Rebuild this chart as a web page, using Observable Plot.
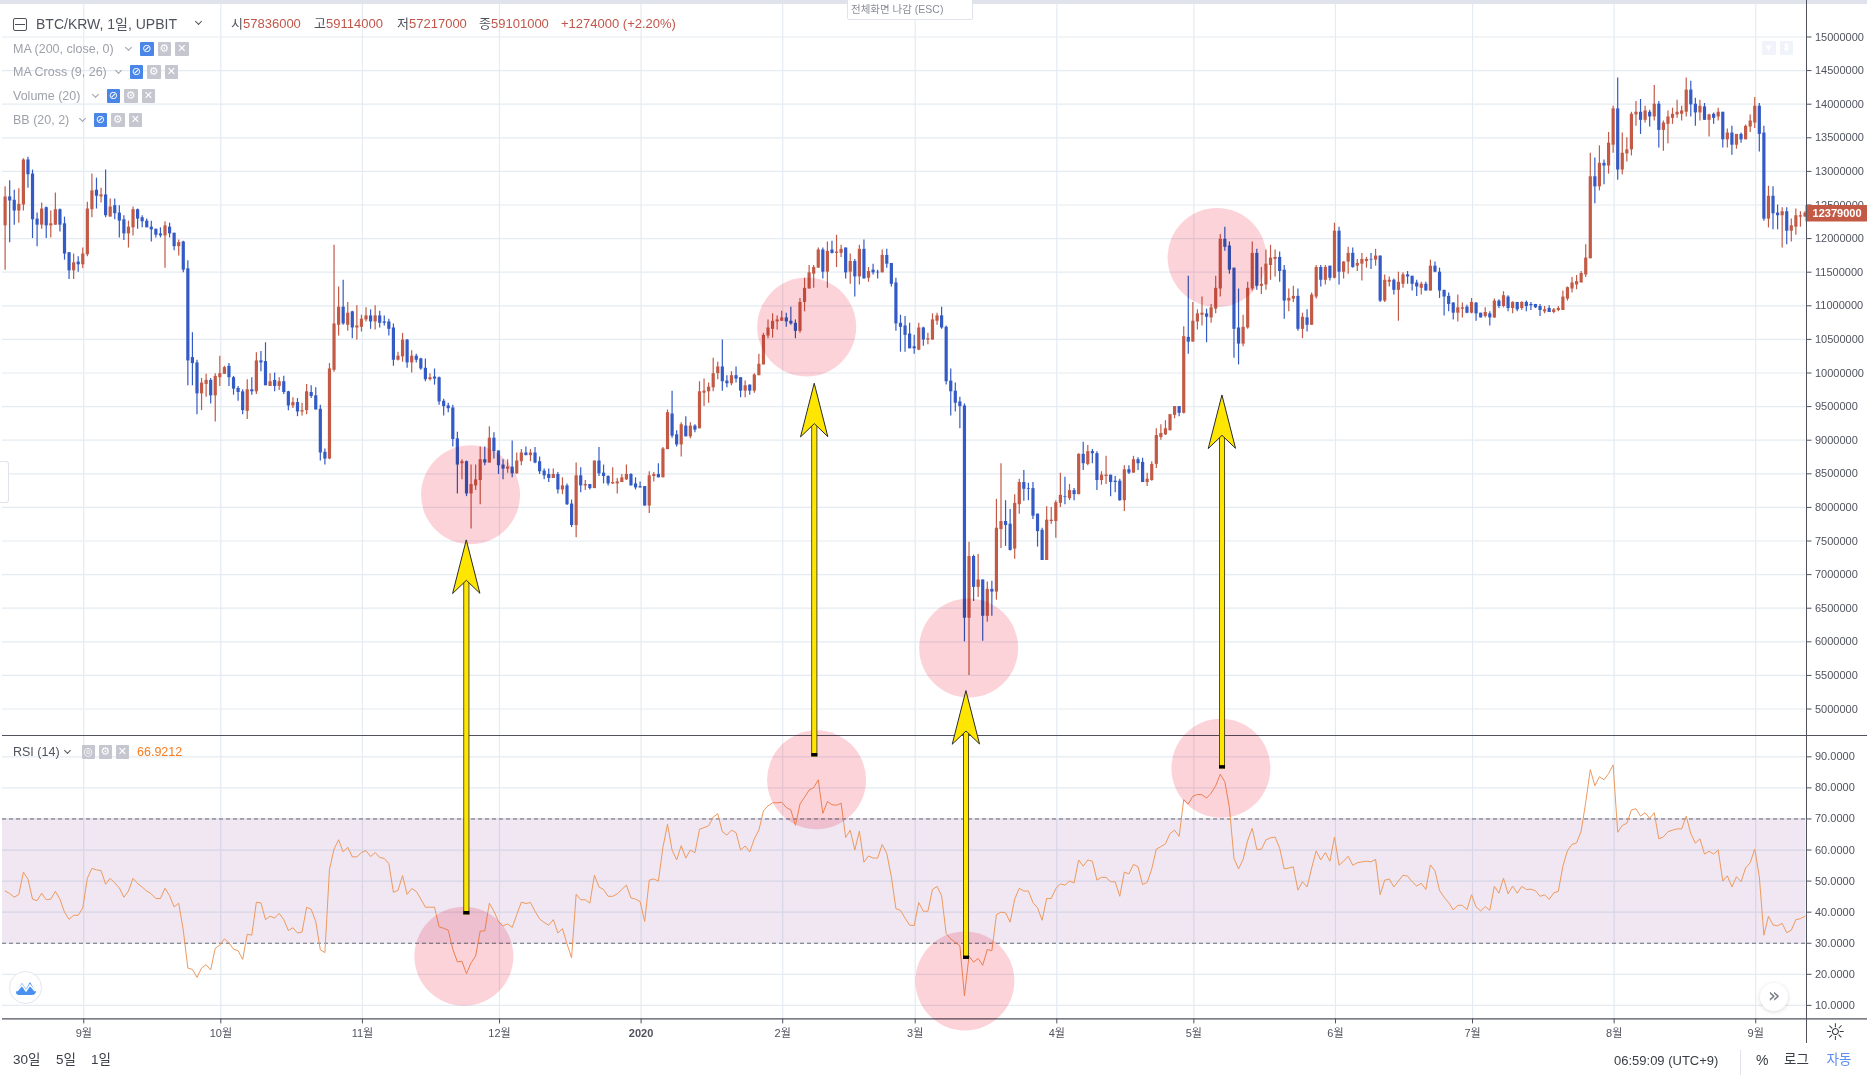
<!DOCTYPE html>
<html lang="ko"><head><meta charset="utf-8">
<script src="https://cdn.jsdelivr.net/npm/d3@7"></script>
<script src="https://cdn.jsdelivr.net/npm/@observablehq/plot@0.6"></script>
<style>
html,body{margin:0;background:#fff;}
#chart{position:relative;width:1867px;height:1080px;overflow:hidden;font-family:"Liberation Sans","Noto Sans CJK KR",sans-serif;color:#50535e;}
.t{position:absolute;white-space:nowrap;line-height:1;}
.b{position:absolute;width:13.5px;height:14px;border-radius:1px;background:#c5c6cf;color:#fff;font:11px/14px "DejaVu Sans";text-align:center;}
.b.on{background:#4a86e8;}
</style></head><body><div id="chart"></div>
<script>
// Prices are in units of 10,000 KRW; one daily candle per entry from 2019-08-15.
const unit = 10000;
const opens = [1219,1262,1257,1241,1250,1317,1296,1229,1220,1246,
1219,1220,1243,1222,1179,1152,1165,1161,1176,1243,
1272,1262,1265,1232,1249,1238,1228,1207,1216,1243,
1231,1226,1217,1214,1207,1204,1217,1208,1188,1195,
1155,1023,1015,969,983,989,966,993,998,1010,
993,977,972,943,975,972,1018,1017,980,989,
980,987,972,951,956,942,944,971,966,946,
882,872,1004,1071,1098,1071,1091,1067,1068,1079,
1085,1076,1085,1076,1076,1067,1019,1024,1049,1015,
1025,1021,1007,990,994,993,958,951,948,902,
865,868,820,832,840,871,866,903,884,863,
857,860,850,868,881,877,881,868,854,849,
843,849,826,832,805,773,847,832,834,828,
869,851,846,835,835,837,841,849,835,831,
831,802,846,849,844,886,939,908,893,921,
905,921,917,970,972,978,999,1009,988,984,
996,993,973,982,973,996,1012,1055,1065,1076,
1077,1082,1077,1074,1062,1105,1125,1147,1156,1183,
1150,1183,1178,1178,1186,1150,1166,1143,1184,1141,
1153,1150,1149,1175,1163,1134,1074,1070,1058,1039,
1034,1067,1049,1049,1077,1085,1068,988,973,957,
951,635,727,681,692,638,678,674,767,779,
775,738,804,837,828,828,790,766,721,779,
779,806,816,813,825,819,879,864,883,880,
840,846,848,839,839,810,856,851,871,867,
837,840,864,904,908,914,937,950,940,1053,
1046,1076,1086,1088,1082,1095,1125,1199,1189,1156,
1067,1043,1067,1125,1178,1129,1131,1160,1169,1172,
1153,1107,1110,1114,1065,1082,1071,1113,1157,1138,
1159,1141,1211,1150,1165,1178,1159,1162,1166,1169,
1168,1174,1107,1135,1138,1123,1132,1146,1144,1134,
1126,1132,1122,1159,1150,1123,1114,1104,1089,1095,
1098,1089,1104,1089,1084,1088,1082,1107,1099,1113,
1096,1105,1096,1105,1102,1102,1099,1091,1096,1090,
1093,1093,1110,1125,1131,1134,1146,1170,1292,1277,
1312,1308,1339,1393,1302,1326,1332,1384,1388,1376,
1388,1381,1400,1361,1370,1379,1384,1385,1388,1421,
1400,1387,1396,1376,1385,1381,1388,1347,1357,1339,
1355,1347,1366,1372,1397,1357,1229,1263,1238,1234,
1240,1211,1217,1232,1232];
const closes = [1262,1256,1241,1251,1317,1295,1228,1220,1244,1219,
1222,1243,1220,1177,1152,1164,1161,1177,1244,1271,
1263,1265,1234,1247,1237,1226,1207,1217,1243,1229,
1225,1216,1213,1205,1204,1219,1207,1188,1194,1153,
1018,1014,969,985,989,966,995,999,1008,993,
976,971,944,975,972,1018,1015,981,987,980,
987,971,951,956,942,944,972,965,945,881,
872,1006,1073,1098,1073,1089,1067,1070,1080,1085,
1076,1085,1074,1074,1065,1019,1025,1049,1015,1025,
1019,1006,990,993,991,957,950,947,901,863,
868,820,834,841,871,866,903,883,862,857,
860,850,869,881,877,881,866,853,847,843,
849,826,832,804,773,847,832,834,828,869,
850,846,835,837,838,844,849,832,829,829,
802,847,849,844,887,941,906,893,923,905,
921,915,972,973,979,999,1009,987,984,996,
991,973,981,973,997,1013,1056,1067,1077,1079,
1082,1076,1073,1062,1105,1126,1149,1157,1183,1150,
1181,1178,1180,1184,1149,1166,1143,1184,1140,1151,
1149,1149,1175,1162,1132,1073,1068,1056,1036,1036,
1067,1049,1051,1079,1085,1067,987,972,955,950,
635,727,681,692,638,678,674,769,779,773,
736,806,837,827,827,787,764,721,781,781,
807,818,815,825,819,879,865,883,880,840,
848,848,837,837,810,856,851,871,865,837,
842,864,907,910,917,938,950,940,1054,1046,
1077,1088,1089,1083,1097,1126,1199,1187,1153,1065,
1043,1068,1126,1178,1129,1132,1162,1171,1172,1151,
1107,1111,1114,1065,1083,1071,1116,1157,1138,1157,
1141,1211,1150,1165,1178,1157,1163,1169,1169,1168,
1174,1107,1138,1138,1123,1135,1146,1143,1132,1128,
1132,1122,1159,1150,1122,1113,1102,1089,1097,1097,
1089,1105,1088,1082,1090,1082,1107,1099,1115,1096,
1105,1094,1105,1099,1100,1097,1093,1094,1090,1094,
1096,1113,1127,1134,1136,1148,1171,1292,1277,1312,
1308,1342,1393,1302,1327,1332,1385,1388,1376,1390,
1381,1400,1361,1372,1381,1385,1388,1390,1421,1399,
1387,1397,1376,1384,1379,1388,1347,1357,1339,1355,
1347,1367,1375,1397,1355,1229,1263,1237,1234,1240,
1211,1219,1234,1234,1238];
const highs = [1277,1286,1272,1274,1319,1321,1302,1238,1253,1247,
1241,1268,1244,1232,1179,1177,1173,1186,1254,1296,
1290,1275,1302,1259,1259,1249,1234,1226,1247,1244,
1234,1229,1226,1214,1216,1225,1223,1208,1198,1196,
1167,1060,1019,992,998,992,999,1025,1010,1014,
995,980,975,990,993,1030,1032,1045,999,1000,
993,995,973,963,962,955,983,981,978,952,
887,1014,1190,1128,1138,1105,1092,1100,1086,1097,
1094,1100,1092,1085,1080,1073,1031,1059,1050,1033,
1028,1022,1021,999,1006,994,961,955,952,912,
871,869,863,863,890,890,920,911,884,871,
871,899,881,886,890,886,889,875,857,857,
857,852,844,835,811,866,859,840,834,869,
889,863,847,859,843,849,863,850,844,838,
831,853,852,865,889,945,973,914,926,935,
926,923,987,991,985,1022,1016,1049,996,1002,
1009,993,988,982,999,1028,1059,1079,1088,1085,
1092,1089,1098,1079,1111,1141,1160,1160,1186,1186,
1195,1196,1205,1190,1186,1177,1169,1190,1198,1157,
1162,1153,1183,1184,1163,1141,1086,1084,1074,1056,
1074,1068,1059,1088,1089,1098,1070,1006,985,964,
954,748,729,730,692,689,690,812,865,810,
797,819,842,855,836,837,790,769,801,800,
810,851,845,834,828,880,897,892,886,883,
853,876,848,846,842,862,862,876,874,873,
851,868,917,923,929,938,950,950,1069,1144,
1105,1094,1113,1095,1102,1144,1206,1217,1195,1156,
1125,1086,1135,1195,1184,1157,1183,1190,1183,1180,
1160,1125,1129,1125,1089,1094,1119,1160,1160,1160,
1159,1223,1217,1166,1187,1186,1169,1178,1172,1178,
1184,1174,1146,1143,1140,1150,1149,1151,1144,1138,
1135,1135,1168,1165,1156,1123,1119,1105,1116,1104,
1101,1111,1105,1089,1097,1091,1110,1109,1121,1115,
1106,1105,1106,1107,1105,1102,1102,1099,1100,1096,
1099,1122,1128,1142,1145,1151,1191,1327,1320,1338,
1317,1358,1397,1439,1357,1350,1388,1404,1407,1397,
1391,1428,1404,1375,1390,1394,1406,1397,1439,1434,
1409,1406,1401,1385,1387,1394,1388,1363,1367,1355,
1357,1369,1384,1410,1401,1367,1278,1277,1250,1246,
1246,1229,1244,1240,1240];
const lows = [1153,1194,1220,1223,1241,1275,1200,1188,1214,1200,
1201,1220,1210,1168,1139,1139,1150,1155,1173,1231,
1244,1253,1231,1232,1228,1201,1197,1186,1204,1214,
1216,1216,1195,1201,1201,1156,1201,1182,1174,1149,
981,981,938,944,964,954,927,980,998,980,
967,958,938,931,967,968,1002,981,980,972,
974,968,944,947,935,936,938,962,945,869,
863,871,1001,1055,1071,1062,1051,1049,1061,1076,
1065,1064,1067,1070,1055,1010,1018,1016,1007,1000,
1015,1004,987,988,982,952,936,941,890,820,
841,816,768,825,804,862,866,872,849,841,
851,844,849,862,877,868,865,849,841,837,
843,820,819,803,770,755,822,825,826,828,
846,835,832,834,820,837,840,832,826,829,
802,791,838,844,844,886,903,890,875,905,
902,911,917,950,955,972,990,973,978,981,
985,963,963,967,970,996,1012,1051,1052,1064,
1077,1068,1071,1051,1059,1091,1125,1126,1156,1140,
1126,1177,1157,1172,1140,1132,1113,1131,1140,1135,
1146,1140,1149,1156,1128,1062,1031,1031,1036,1028,
1033,1040,1042,1049,1071,1065,982,936,942,917,
600,550,660,666,601,629,638,662,739,742,
735,723,790,809,810,782,741,721,721,775,
754,800,804,810,810,819,855,862,865,825,
833,834,816,822,809,794,849,851,855,837,
831,839,858,900,907,914,932,935,939,1028,
1046,1064,1070,1045,1074,1088,1113,1181,1147,1022,
1012,1039,1065,1122,1123,1117,1123,1138,1143,1135,
1080,1091,1105,1062,1051,1061,1071,1110,1128,1131,
1137,1140,1131,1140,1147,1156,1151,1137,1156,1154,
1159,1105,1105,1128,1116,1077,1126,1132,1122,1114,
1116,1122,1122,1149,1111,1085,1091,1079,1076,1082,
1088,1088,1077,1082,1082,1070,1081,1096,1097,1091,
1088,1091,1093,1091,1093,1096,1084,1088,1090,1088,
1091,1093,1107,1119,1124,1134,1142,1170,1252,1271,
1280,1296,1327,1287,1295,1314,1323,1367,1355,1372,
1366,1375,1335,1330,1341,1370,1379,1375,1381,1381,
1367,1375,1376,1351,1370,1375,1335,1335,1324,1333,
1342,1347,1358,1364,1329,1226,1216,1213,1213,1186,
1191,1195,1205,1217,1232];
const rsiValues = [46.8,46,44.8,45.7,52.9,50.6,44.2,43.7,46.1,44,
44.2,46.7,44.2,40,37.7,39,39,41.4,50.9,54.1,
53.6,53.4,49,50.9,49.4,47.8,44.8,46.8,50.9,49.2,
48.1,46.8,45.9,44.4,44.4,47.7,45.3,41.7,42.9,34.2,
22,21.6,19,22,23.1,21.4,28.4,29.4,31.4,30.1,
28.1,27.6,24.8,32.9,32.6,43.2,43,37.6,38.7,38.1,
39.6,37.6,34.1,35,33.3,33.6,41.6,40.9,37,27.9,
27,53.7,60.3,63.3,59.4,60.9,57.8,57.8,59.2,59.8,
57.9,59.2,57.6,57.3,55.6,46.4,47,51.8,45.7,47.6,
46.7,44.2,41.6,41.6,41.6,35.3,34.8,34.2,28.1,24,
24.2,20.2,23.7,25.9,33.9,34,42.9,40.3,37,35.6,
36.2,35.1,39.2,43.2,42.8,43.1,40.3,37.8,36.7,35.8,
37.6,33.3,34.7,29.8,25.3,45.8,44,44,42.9,51.9,
48.1,47.3,45.1,45.1,45.9,47.3,48.7,44.6,44.2,43.4,
37,50.3,50.7,50,60.9,68.3,60,56.8,61.4,57.4,
60,59.1,66.7,67.2,67.8,70.6,71.7,65.9,64.8,66.4,
65.6,60,61.3,59.4,63.6,66.4,72.6,74.2,75.2,75.2,
75.4,73.7,72.9,67.9,74.8,77,79.3,80.1,82.6,71.8,
75.6,74.6,74.4,75.1,64,66.4,60,66.1,56.1,58.1,
57.4,57.4,61.8,58.9,51.4,41.1,40.6,38.1,35.8,35.7,
43.1,40.3,40.3,47.3,48.3,45.3,
33.1,31.4,30.3,29.2,13.1,25.9,23.9,25.1,22.9,28,
27.6,39.2,40,39.8,36.8,44.2,47.7,46.8,46.8,43.1,
41.4,37.4,44.4,44.4,47.6,49.1,48.7,50,49.4,56.8,
54.8,56.8,56.4,50.3,51.2,51.2,49.8,49.8,45.1,52.9,
52.3,55.4,54.6,48.9,49.6,53.9,60.3,61.1,62,65.3,
66.4,64.4,76.2,74.8,77.3,77.9,77.8,76.7,78.3,80.7,
84.4,82,73.7,57.3,53.9,57,63.1,67,60.2,60.2,
63.3,63.9,64.2,60.6,53.9,54.2,54.6,47.1,49.8,48.1,
54.2,59.7,56.8,59.2,56.4,64.2,55.1,56.4,58,55.1,
55.9,56.2,56.4,56.2,57,45.6,50.3,50.7,48.1,50,
51.9,51.6,49.8,48.4,49.3,47.3,55.2,53.3,47,44.8,
43.1,40.7,42.2,42.2,40.8,45.6,41.7,40.4,41.8,40.6,
48.3,46.1,50.9,45.9,48.4,46.1,48.3,47.3,47.4,46.9,
45.1,45.6,44.1,46.2,46.7,54.8,59.8,61.8,62.3,66.1,
75.3,85.9,80.7,83.6,82.6,84.6,87.4,65.7,67.9,68.6,
72.9,73.3,70.9,72,70.2,72,63.6,64.2,65.9,66.4,
66.8,66.8,70.9,65.3,62.2,63.6,58.7,59.6,58.7,60,
50,51.7,48.1,51.4,49.8,54.2,55.9,60.3,51.4,32.6,
38.7,35.9,35.6,36.4,33.4,34.2,37.6,37.9,38.7];

const priceTicks = [5000000,5500000,6000000,6500000,7000000,7500000,8000000,8500000,9000000,9500000,10000000,10500000,11000000,11500000,12000000,12500000,13000000,13500000,14000000,14500000,15000000];
const rsiTicks = [10,20,30,40,50,60,70,80,90];
const monthTickDates = ["2019-09-01","2019-10-01","2019-11-01","2019-12-01","2020-01-01","2020-02-01","2020-03-01","2020-04-01","2020-05-01","2020-06-01","2020-07-01","2020-08-01","2020-09-01"];
const monthTickLabels = ["9월","10월","11월","12월","2020","2월","3월","4월","5월","6월","7월","8월","9월"];
const lastPrice = 12379000;

// Annotations, expressed on the extended price axis of the overlay.
const circleDates = ["2019-11-24T16:00Z","2020-02-06T06:00Z","2020-03-12T17:00Z","2020-05-06T02:00Z","2019-11-23T05:00Z","2020-02-08T10:00Z","2020-03-11T21:00Z","2020-05-06T22:00Z"];
const circleLevels = [8188000,10686000,5907000,11720000,1320000,3946000,954000,4119000];
const arrowDates = ["2019-11-23T18:00Z","2020-02-07T22:00Z","2020-03-12T03:00Z","2020-05-07T04:00Z"];
const arrowTips = [7511000,9842000,5269000,9668000];
const arrowBases = [1937000,4288000,1274000,4108000];

const RED = "#c25a46", BLUE = "#345bc5", GRID = "#e4ebf2", AXIS = "#50535e", RSI = "#ee9a5e", YEL = "#ffe600";
const FONT = '"Liberation Sans","Noto Sans CJK KR",sans-serif';
const W = 1867, ML = 2, MR = 61.5;
const viewStart = new Date(Date.UTC(2019,7,14,5)), viewEnd = new Date(Date.UTC(2020,8,12));
const tagMid = new Date(+viewEnd + 6.8*864e5), tagEnd = new Date(+viewEnd + 13.6*864e5);
const xScale = {type:"utc", domain:[viewStart, viewEnd], axis:null};
const tickDates = monthTickDates.map(s => new Date(s + "T00:00Z"));
const tickLabel = new Map(tickDates.map((d,i) => [+d, monthTickLabels[i]]));
const candles = opens.map((o,i) => ({date:new Date(Date.UTC(2019,7,15+i)), open:o*unit, close:closes[i]*unit, high:highs[i]*unit, low:lows[i]*unit, rsi:rsiValues[i]}));
const up = candles.filter(d => d.close >= d.open), down = candles.filter(d => d.close < d.open);
const base = (extra) => ({width:W, marginLeft:ML, marginRight:MR, marginTop:0, ...extra});
const abs = (top, more={}) => ({position:"absolute", left:"0", top:top+"px", background:"transparent", fontFamily:FONT, maxWidth:"none", ...more});
const candleMarks = (rows, color) => [
  Plot.ruleX(rows, {x:"date", y1:"low", y2:"high", stroke:color, strokeWidth:1.2, dx:-1}),
  Plot.ruleX(rows, {x:"date", y1:"open", y2:"close", stroke:color, strokeWidth:3.2, dx:-1})
];

const pricePlot = Plot.plot(base({
  height:735, marginBottom:0, x:xScale,
  y:{domain:[4606000,15543000], axis:null},
  style:abs(0),
  marks:[
    Plot.ruleY(priceTicks, {stroke:GRID, strokeWidth:1.2}),
    Plot.ruleX(tickDates, {stroke:GRID, strokeWidth:1.2}),
    ...candleMarks(up, RED), ...candleMarks(down, BLUE),
    Plot.axisY({anchor:"right", ticks:priceTicks, tickSize:5, tickPadding:4, tickFormat:d => String(d), fontSize:11, color:AXIS, label:null}),
    Plot.ruleY([lastPrice], {x1:() => viewEnd, x2:() => tagEnd, stroke:RED, strokeWidth:16.5}),
    Plot.text([lastPrice], {x:() => tagMid, y:d => d, text:d => String(d), fill:"#fff", fontWeight:"bold", fontSize:11})
  ]
}));

const rsiPlot = Plot.plot(base({
  height:315, marginBottom:31.6, x:{type:"utc", domain:[viewStart, viewEnd]},
  y:{domain:[5.65,96.86], axis:null},
  style:abs(735),
  marks:[
    Plot.ruleY(rsiTicks, {stroke:GRID, strokeWidth:1.2}),
    Plot.ruleX(tickDates, {stroke:GRID, strokeWidth:1.2}),
    Plot.rect([0], {x1:() => viewStart, x2:() => viewEnd, y1:() => 30, y2:() => 70, fill:"#7b2a8c", fillOpacity:0.115}),
    Plot.ruleY([30,70], {stroke:"#6a6a72", strokeDasharray:"4 3", strokeWidth:1}),
    Plot.line(candles, {x:"date", y:"rsi", stroke:RSI, strokeWidth:1, dx:-1}),
    Plot.axisY({anchor:"right", ticks:rsiTicks, tickSize:5, tickPadding:4, tickFormat:d => d.toFixed(4), fontSize:11, color:AXIS, label:null}),
    Plot.axisX({anchor:"bottom", ticks:tickDates.filter(d => tickLabel.get(+d) !== "2020"), tickSize:5, tickPadding:5, tickFormat:d => tickLabel.get(+d), fontSize:11, color:AXIS, label:null}),
    Plot.axisX({anchor:"bottom", ticks:tickDates.filter(d => tickLabel.get(+d) === "2020"), tickSize:5, tickPadding:5, tickFormat:d => tickLabel.get(+d), fontSize:11, fontWeight:"bold", color:AXIS, label:null}),
    Plot.ruleY([96.86, 5.65], {x1:() => viewStart, x2:() => tagEnd, stroke:"#50535e", strokeWidth:1.1})
  ]
}));

const overlayY = {domain:[-81000,15543000], axis:null};
const circlePlot = Plot.plot(base({
  height:1050, marginBottom:0, x:xScale, y:overlayY,
  style:abs(0, {mixBlendMode:"multiply"}),
  marks:[ Plot.dot(circleDates.map((d,i) => ({date:new Date(d), level:circleLevels[i]})), {x:"date", y:"level", r:49.5, fill:"#fdd3da", stroke:"none"}) ]
}));
const arrows = arrowDates.map((d,i) => ({date:new Date(d), tip:arrowTips[i], base:arrowBases[i]}));
const arrowHead = {draw(c, l, r){ c.moveTo(0,-l); c.lineTo(r,0); c.lineTo(0,-13); c.lineTo(-r,0); c.closePath(); }};
const arrowPlot = Plot.plot(base({
  height:1050, marginBottom:0, x:xScale, y:overlayY,
  style:abs(0),
  marks:[
    Plot.ruleX(arrows, {x:"date", y1:"base", y2:d => d.tip - 500000, stroke:"#2a2a2a", strokeWidth:6}),
    Plot.ruleX(arrows, {x:"date", y1:"base", y2:d => d.tip - 500000, stroke:YEL, strokeWidth:4.4}),
    Plot.ruleX(arrows, {x:"date", y1:"base", y2:d => d.base + 50000, stroke:"#000", strokeWidth:6}),
    Plot.vector(arrows, {x:"date", y:"tip", length:53, rotate:0, r:13.5, anchor:"end", shape:arrowHead, fill:YEL, stroke:"#2a2a2a", strokeWidth:1})
  ]
}));

const root = document.getElementById("chart");
root.append(pricePlot, rsiPlot, circlePlot, arrowPlot);

// Page furniture above and below the plots
function box(css, html=""){ const e=document.createElement("div"); e.style.cssText="position:absolute;"+css; e.innerHTML=html; root.append(e); return e; }
function label(x, cy, text, size, color, weight){ const e=document.createElement("div"); e.className="t"; e.textContent=text;
  e.style.cssText=`left:${x}px;top:${cy-size/2}px;font-size:${size}px;color:${color};${weight?"font-weight:"+weight:""}`; root.append(e); return e; }
function btn(x, cy, glyph, on, bg){ const e=document.createElement("div"); e.className="b"+(on?" on":""); e.textContent=glyph; e.style.left=x+"px"; e.style.top=(cy-7)+"px"; if(bg) e.style.background=bg; root.append(e); }
function chevron(x, cy, color){ box(`left:${x}px;top:${cy-4}px;width:4px;height:4px;border-right:1px solid ${color};border-bottom:1px solid ${color};transform:rotate(45deg)`); }

box("left:0;top:0;width:1867px;height:4px;background:#e0e3eb");
box("left:847px;top:-1px;width:124px;height:19px;background:#fff;border:1px solid #e0e3eb;border-radius:0 0 2px 2px");
label(851, 9.5, "전체화면 나감 (ESC)", 10.5, "#888c96");
box("left:13px;top:18px;width:12px;height:11px;border:1px solid #50535e;border-radius:2px");
box("left:15px;top:24px;width:10px;height:1px;background:#50535e");
label(36, 23.5, "BTC/KRW, 1일, UPBIT", 14, "#50535e");
chevron(196, 23, "#50535e");
const RT = "#c0564a";
[[231,243,"시","57836000"],[314,326,"고","59114000"],[397,409,"저","57217000"],[479,491,"종","59101000"]].forEach(([a,b,k,v]) => { label(a,23.5,k,13,"#50535e"); label(b,23.5,v,13,RT); });
label(561, 23.5, "+1274000 (+2.20%)", 13, RT);

[[49,"MA (200, close, 0)",140],[72,"MA Cross (9, 26)",129.5],[96,"Volume (20)",106.5],[120,"BB (20, 2)",93.5]].forEach(([y,t,x]) => {
  label(13, y, t, 12.5, "#9ea1aa");
  chevron(x-14, y, "#9ea1aa");
  btn(x, y, "⊘", true); btn(x+17.5, y, "⚙"); btn(x+35, y, "✕");
});
btn(1762, 48, "▾", false, "#f0f3fa"); btn(1779.5, 48, "⬍", false, "#f0f3fa");

label(13, 752, "RSI (14)", 12.5, "#50535e");
chevron(65, 752, "#50535e");
btn(81.5, 752, "◎"); btn(98.5, 752, "⚙"); btn(115.5, 752, "✕");
label(137, 752, "66.9212", 12.5, "#f57c20");

box("left:0;top:461px;width:8px;height:40px;background:#fff;border:1px solid #e0e3eb;border-left:none;border-radius:0 3px 3px 0");
box("left:9px;top:971px;width:31px;height:31px;background:#fff;border:1px solid #e4e6ec;border-radius:50%",
  '<svg width="31" height="31" viewBox="0 0 31 31"><path d="M6 20 L12 11 L16 17 L20 10 L26 20 Q25 23 22 23 L9 23 Q6 23 6 20 Z" fill="#4a90f0"/><path d="M7 19 L12 13 L16 19 L20 13 L25 19" fill="none" stroke="#fff" stroke-width="1.5"/></svg>');
box("left:1760px;top:983px;width:28px;height:28px;background:#fff;border-radius:50%;box-shadow:0 1px 4px rgba(0,0,0,.15);text-align:center;font:20px/25px 'DejaVu Sans';color:#787b86", "»");
box("left:1805.5px;top:0;width:1px;height:1043px;background:#50535e");
label(1825, 1032, "☼", 23, "#3a3d46").style.fontFamily = "DejaVu Sans";

label(13, 1060, "30일", 13.5, "#3a3d46");
label(56, 1060, "5일", 13.5, "#3a3d46");
label(91, 1060, "1일", 13.5, "#3a3d46");
label(1614, 1060, "06:59:09 (UTC+9)", 13, "#3a3d46");
box("left:1739.5px;top:1050px;width:1px;height:25px;background:#e0e3eb");
label(1756, 1060, "%", 14, "#3a3d46");
label(1784, 1060, "로그", 13.5, "#3a3d46");
label(1826.5, 1060, "자동", 13.5, "#5b8ff0");
</script></body></html>
